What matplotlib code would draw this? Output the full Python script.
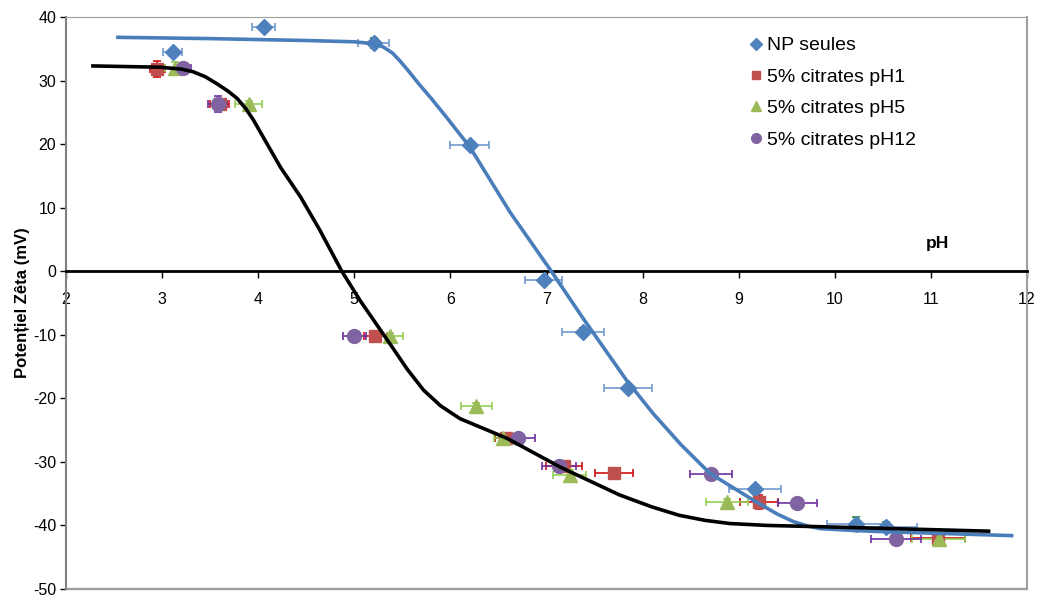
import numpy as np
import matplotlib.pyplot as plt
from matplotlib.patches import Rectangle
from matplotlib.lines import Line2D

plt.rcParams['font.family'] = ['Liberation Sans', 'DejaVu Sans']
plt.rcParams['axes.unicode_minus'] = False

# NP seules
ph_np = [3.11, 4.06, 5.20, 6.20, 6.97, 7.38, 7.85, 9.17, 10.22, 10.53]
zeta_np = [34.5, 38.4, 35.9, 19.8, -1.4, -9.5, -18.4, -34.3, -39.7, -40.2]
xerr_np = [0.10, 0.12, 0.16, 0.20, 0.19, 0.22, 0.25, 0.27, 0.30, 0.33]
yerr_np = [0.5, 0.5, 0.8, 0.5, 0.5, 0.5, 0.5, 0.5, 1.0, 0.8]

# 5% citrates pH1
ph_c1 = [2.95, 3.60, 5.22, 6.58, 7.18, 7.70, 9.21, 11.07]
zeta_c1 = [31.8, 26.3, -10.2, -26.2, -30.6, -31.8, -36.3, -42.0]
xerr_c1 = [0.08, 0.10, 0.12, 0.12, 0.19, 0.20, 0.20, 0.28]
yerr_c1 = [1.2, 0.8, 0.5, 0.5, 0.5, 0.5, 1.1, 0.8]

# 5% citrates pH5
ph_c5 = [3.13, 3.90, 5.37, 6.27, 6.55, 7.24, 8.88, 11.08]
zeta_c5 = [31.9, 26.3, -10.2, -21.2, -26.2, -32.1, -36.3, -42.1]
xerr_c5 = [0.10, 0.14, 0.14, 0.16, 0.10, 0.17, 0.22, 0.28]
yerr_c5 = [1.0, 0.5, 0.5, 0.5, 0.5, 0.8, 0.5, 0.9]

# 5% citrates pH12
ph_c12 = [3.22, 3.58, 5.00, 6.70, 7.13, 8.71, 9.61, 10.64]
zeta_c12 = [31.9, 26.3, -10.2, -26.2, -30.6, -31.9, -36.4, -42.1]
xerr_c12 = [0.08, 0.10, 0.12, 0.18, 0.18, 0.22, 0.20, 0.26]
yerr_c12 = [0.5, 1.2, 0.5, 0.5, 0.5, 0.5, 0.5, 0.6]

# trend curves
curve_np_x = [2.54, 3.5, 4.5, 5.00, 5.20, 5.30, 5.40, 5.48, 5.57, 5.67, 5.80, 5.95, 6.20,
              6.62, 7.05, 7.38, 7.83, 8.11, 8.40, 8.70, 9.15, 9.40, 9.57, 9.72, 9.85,
              10.2, 10.54, 11.2, 11.84]
curve_np_y = [36.8, 36.6, 36.3, 36.1, 35.8, 35.3, 34.3, 33.0, 31.4, 29.5, 27.2, 24.4, 19.6,
              9.3, 0.0, -7.4, -17.1, -22.4, -27.3, -31.8, -36.0, -38.2, -39.4, -40.1, -40.5,
              -40.8, -41.0, -41.3, -41.6]
curve_cit_x = [2.28, 2.98, 3.20, 3.32, 3.45, 3.57, 3.68, 3.78, 3.87, 3.95, 4.09, 4.23, 4.44,
               4.64, 4.87, 5.06, 5.37, 5.55, 5.72, 5.90, 6.10, 6.59, 7.14, 7.76, 8.10,
               8.38, 8.65, 8.91, 9.30, 9.85, 11.60]
curve_cit_y = [32.3, 32.1, 31.8, 31.4, 30.6, 29.5, 28.4, 27.2, 25.6, 23.8, 20.1, 16.4, 11.7,
               6.5, 0.0, -4.6, -11.4, -15.4, -18.7, -21.2, -23.2, -26.3, -30.8, -35.2, -37.1,
               -38.4, -39.2, -39.7, -40.0, -40.2, -40.9]

fig = plt.figure(figsize=(10.4, 5.96), dpi=100)
ax = fig.add_axes([66 / 1040, 1 - 589 / 596, 961 / 1040, 572 / 596])

ekw = dict(elinewidth=1.2, capsize=3, capthick=1.2, linestyle='none')

ax.errorbar(ph_np, zeta_np, yerr=yerr_np, fmt='none', ecolor='#1E8C1E', **ekw, zorder=3)
ax.errorbar(ph_np, zeta_np, xerr=xerr_np, fmt='D', color='#4F81BD', ecolor='#6F9AD0',
            ms=8, **ekw, zorder=4)
ax.errorbar(ph_c1, zeta_c1, xerr=xerr_c1, yerr=yerr_c1, fmt='s', color='#C0504D',
            ecolor='#D01010', ms=8, **ekw, zorder=4)
ax.errorbar(ph_c5, zeta_c5, xerr=xerr_c5, yerr=yerr_c5, fmt='^', color='#9BBB59',
            ecolor='#92D050', ms=10, **ekw, zorder=4)
ax.errorbar(ph_c12, zeta_c12, xerr=xerr_c12, yerr=yerr_c12, fmt='o', color='#8064A2',
            ecolor='#7030A0', ms=10, **ekw, zorder=4)

ax.plot(curve_np_x, curve_np_y, color='#4A7EBB', lw=2.6, zorder=5, solid_joinstyle='round')
ax.plot(curve_cit_x, curve_cit_y, color='black', lw=2.6, zorder=5, solid_joinstyle='round')

ax.set_xlim(2, 12)
ax.set_ylim(-50, 40)
ax.set_xticks(np.arange(2, 13, 1))
ax.set_yticks(np.arange(-50, 41, 10))

ax.spines['bottom'].set_position(('data', 0))
ax.spines['bottom'].set_color('black')
ax.spines['bottom'].set_linewidth(2)
ax.spines['left'].set_color('#808080')
ax.spines['left'].set_linewidth(1.5)
ax.spines['top'].set_color('#A0A0A0')
ax.spines['right'].set_color('#A0A0A0')
ax.spines['right'].set_linewidth(1.5)
ax.add_patch(Rectangle((0, 0), 1, 0.002, transform=ax.transAxes, color='#A0A0A0',
                       clip_on=False, zorder=1))

ax.tick_params(axis='x', direction='out', length=5, width=1, pad=10, labelsize=11.5)
ax.tick_params(axis='y', direction='out', length=4, width=1, pad=3, labelsize=11.5)

ax.text(11.07, 4.4, 'pH', fontsize=12.5, fontweight='bold', ha='center', va='center')
ax.set_ylabel('Potențiel Zêta (mV)', fontsize=12, fontweight='bold', labelpad=2)

handles = [
    Line2D([], [], marker='D', color='#4F81BD', ls='none', ms=6),
    Line2D([], [], marker='s', color='#C0504D', ls='none', ms=6),
    Line2D([], [], marker='^', color='#9BBB59', ls='none', ms=7),
    Line2D([], [], marker='o', color='#8064A2', ls='none', ms=7),
]
labels = ['NP seules', '5% citrates pH1', '5% citrates pH5', '5% citrates pH12']
ax.legend(handles, labels, loc='upper left', bbox_to_anchor=(0.70, 0.979), frameon=False,
          fontsize=14, handletextpad=0.05, labelspacing=0.71, handlelength=1.0,
          borderaxespad=0)

fig.savefig('out.png', dpi=100)
